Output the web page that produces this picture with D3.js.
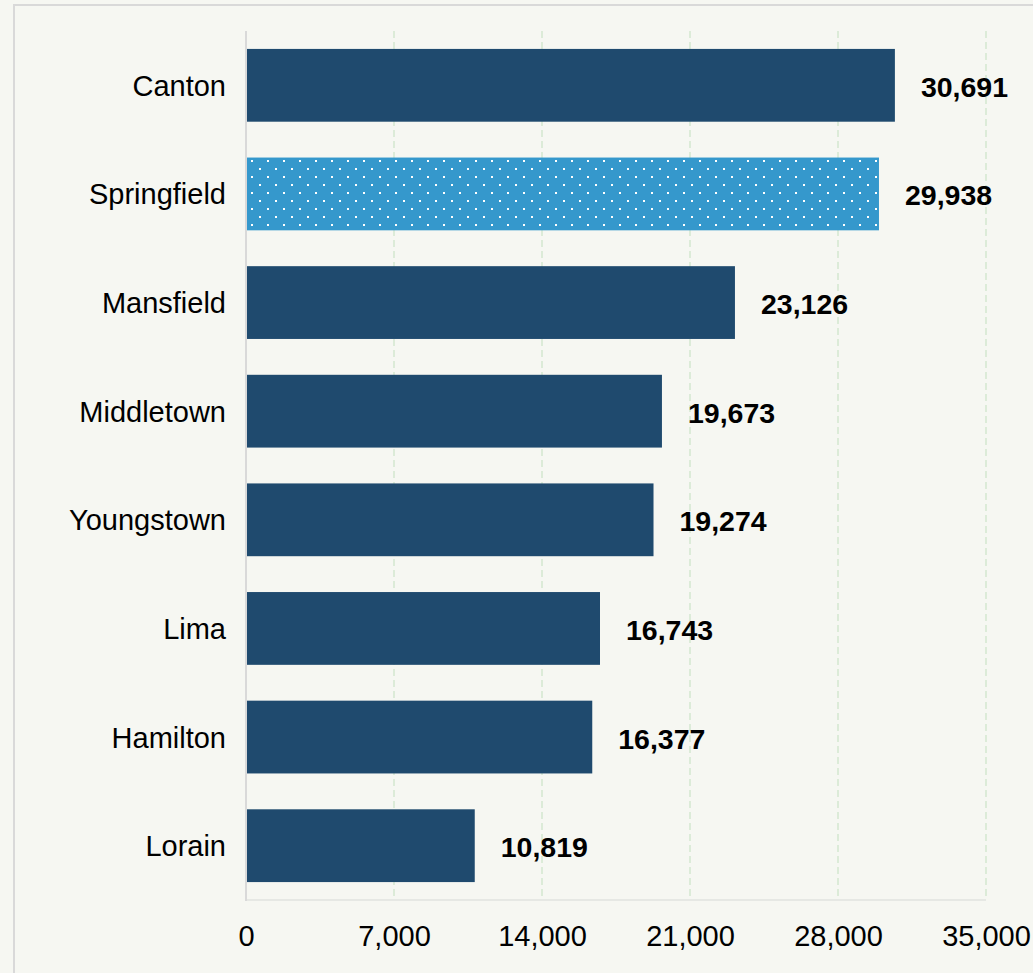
<!DOCTYPE html>
<html>
<head>
<meta charset="utf-8">
<script src="https://cdn.jsdelivr.net/npm/d3@7"></script>
<style>
  html, body { margin: 0; padding: 0; background: #f6f7f2; }
  svg { display: block; font-family: "Liberation Sans", Arial, sans-serif; }
</style>
</head>
<body>
<svg id="chart" width="1033" height="973"></svg>
<script>
// City values
const cities = ["Canton", "Springfield", "Mansfield", "Middletown", "Youngstown", "Lima", "Hamilton", "Lorain"];
const values = [30691, 29938, 23126, 19673, 19274, 16743, 16377, 10819];
const highlighted = ["Springfield"];
const tickValues = [0, 7000, 14000, 21000, 28000, 35000];

const svg = d3.select("#chart");
const W = 1033, H = 973;

// frame
svg.append("rect").attr("x", 0).attr("y", 0).attr("width", W).attr("height", H).attr("fill", "#f6f7f2");
svg.append("rect").attr("x", 14).attr("y", 5).attr("width", W + 20).attr("height", H + 20)
  .attr("fill", "#f6f7f2").attr("stroke", "#d9d9d9").attr("stroke-width", 2);

// dotted pattern for the highlighted bar
const defs = svg.append("defs");
const pat = defs.append("pattern").attr("id", "dots").attr("patternUnits", "userSpaceOnUse")
  .attr("width", 16).attr("height", 16).attr("x", 251).attr("y", 152);
pat.append("rect").attr("width", 16).attr("height", 16).attr("fill", "#3598cc");
pat.append("rect").attr("x", 8).attr("y", 0).attr("width", 2).attr("height", 2).attr("fill", "#ffffff");
pat.append("rect").attr("x", 0).attr("y", 8).attr("width", 2).attr("height", 2).attr("fill", "#ffffff");

const x = d3.scaleLinear().domain([0, 35000]).range([246, 986]);
const y = d3.scaleBand().domain(cities).range([31, 900]).paddingInner(0.33).paddingOuter(0.165);

// vertical grid lines
svg.append("g").selectAll("line").data(tickValues.filter(d => d > 0)).join("line")
  .attr("x1", d => x(d)).attr("x2", d => x(d))
  .attr("y1", 31).attr("y2", 900)
  .attr("stroke", "#dcebd8").attr("stroke-width", 2).attr("stroke-dasharray", "7,4");

// bottom baseline
svg.append("line").attr("x1", 246).attr("x2", 986).attr("y1", 900).attr("y2", 900)
  .attr("stroke", "#e6e8e4").attr("stroke-width", 2);

// bars
const data = cities.map((c, i) => ({ city: c, value: values[i] }));
svg.append("g").selectAll("rect").data(data).join("rect")
  .attr("x", x(0))
  .attr("y", d => y(d.city))
  .attr("width", d => x(d.value) - x(0))
  .attr("height", y.bandwidth())
  .attr("fill", d => highlighted.includes(d.city) ? "url(#dots)" : "#1f4a6e");

// value labels
svg.append("g").selectAll("text").data(data).join("text")
  .attr("x", d => x(d.value) + 26)
  .attr("y", d => y(d.city) + y.bandwidth() / 2 + 11.5)
  .attr("font-size", 28.5).attr("font-weight", "bold").attr("fill", "#000")
  .text(d => d3.format(",")(d.value));

// category axis
const yAxis = svg.append("g").attr("transform", "translate(246,0)")
  .call(d3.axisLeft(y).tickSize(0).tickPadding(20));
yAxis.select(".domain").remove();
yAxis.selectAll("text").attr("font-size", 29).attr("fill", "#000")
  .attr("font-family", "Liberation Sans, Arial, sans-serif").attr("dy", "0.36em");
svg.append("line").attr("x1", 246).attr("x2", 246).attr("y1", 31).attr("y2", 901)
  .attr("stroke", "#d9d9d9").attr("stroke-width", 2);

// value axis
const xAxis = svg.append("g").attr("transform", "translate(0,900)")
  .call(d3.axisBottom(x).tickValues(tickValues).tickSize(0).tickPadding(25).tickFormat(d3.format(",")));
xAxis.select(".domain").remove();
xAxis.selectAll("text").attr("font-size", 29).attr("fill", "#000")
  .attr("font-family", "Liberation Sans, Arial, sans-serif");
</script>
</body>
</html>
